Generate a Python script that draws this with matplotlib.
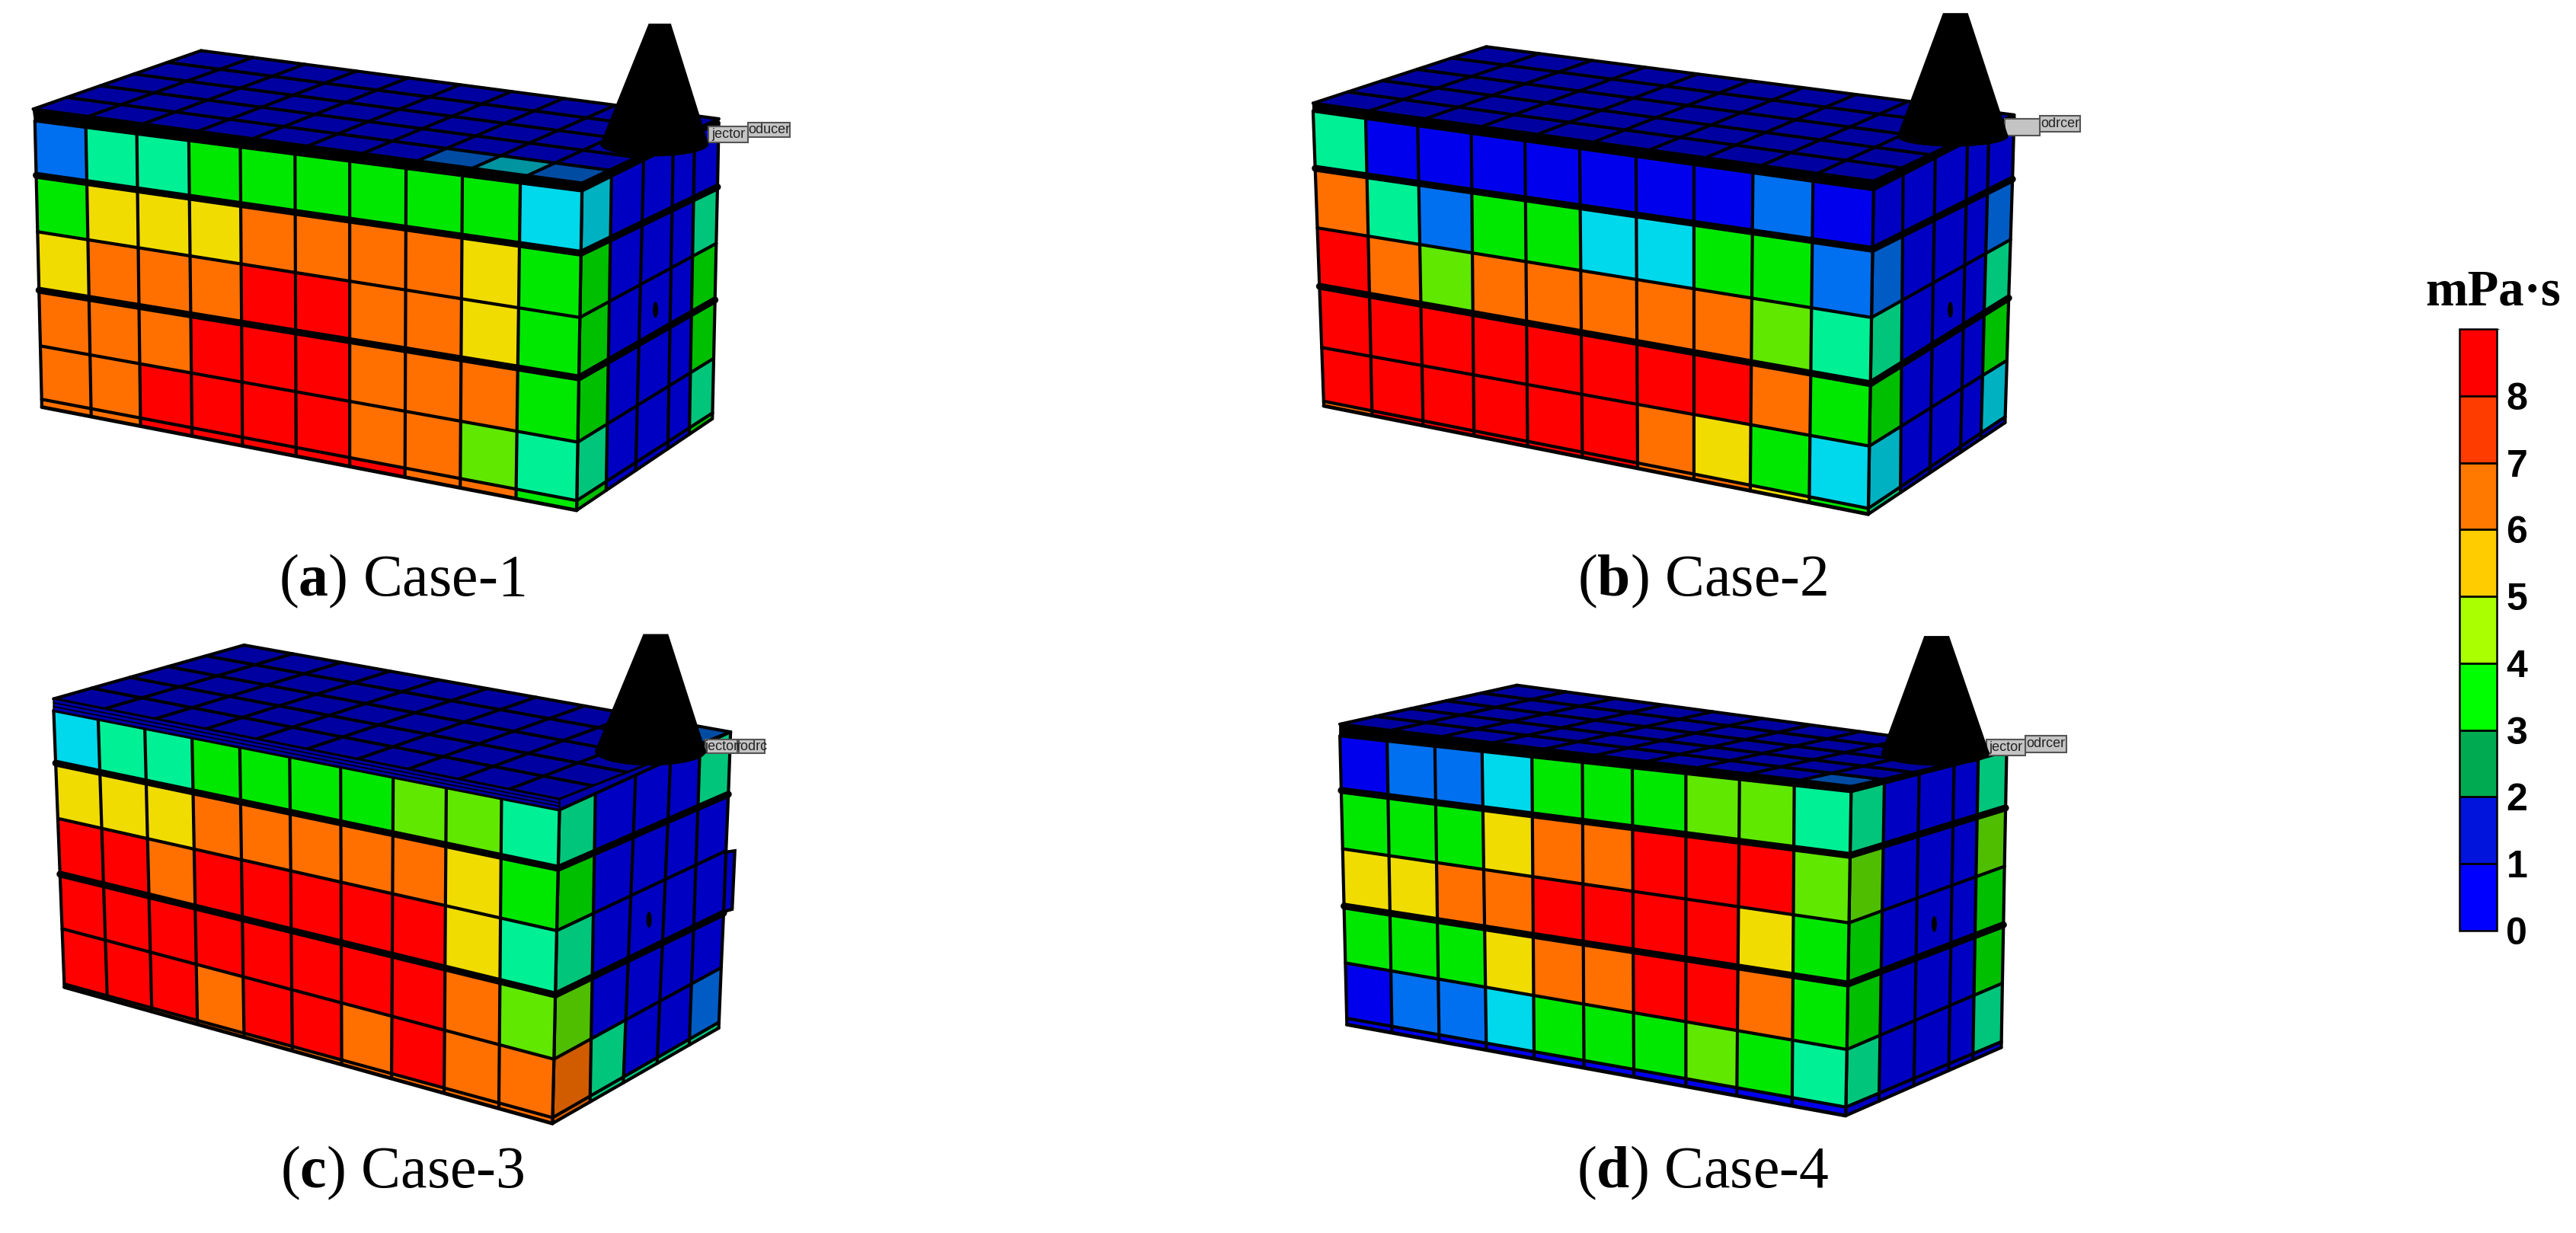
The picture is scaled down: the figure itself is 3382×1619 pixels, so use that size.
import numpy as np
import matplotlib
matplotlib.use("Agg")
import matplotlib.pyplot as plt
from matplotlib.collections import PolyCollection, LineCollection
from matplotlib.colors import ListedColormap, BoundaryNorm, to_rgb
from matplotlib.colorbar import ColorbarBase
from matplotlib.patches import Polygon, Ellipse, Rectangle

plt.rcParams['font.family'] = ['Liberation Serif', 'DejaVu Serif']
plt.rcParams['mathtext.fontset'] = 'custom'
plt.rcParams['mathtext.rm'] = 'Liberation Serif'
plt.rcParams['mathtext.bf'] = 'Liberation Serif:bold'

# ---- cell viscosity estimates (mPa.s), one symbol per colour band seen in the picture
B, M, C, T, G, L, Y, O, R = 0.5, 1.2, 2.0, 2.6, 3.5, 4.4, 5.4, 6.5, 8.3

CASE1_FRONT = [[M,T,T,G,G,G,G,G,G,C],[G,Y,Y,Y,O,O,O,O,Y,G],[Y,O,O,O,R,R,O,O,Y,G],
               [O,O,O,R,R,R,O,O,O,G],[O,O,R,R,R,R,O,O,L,T],[O,O,R,R,R,R,R,O,O,G]]
CASE2_FRONT = [[T,B,B,B,B,B,B,B,M,B],[O,T,M,G,G,C,C,G,G,M],[R,O,L,O,O,O,O,O,L,T],
               [R,R,R,R,R,R,R,R,O,G],[R,R,R,R,R,R,O,Y,G,C],[O,R,R,R,R,R,O,O,Y,G]]
CASE3_FRONT = [[C,T,T,G,G,G,G,L,L,T],[Y,Y,Y,O,O,O,O,O,Y,G],[R,R,O,R,R,R,R,R,Y,T],
               [R,R,R,R,R,R,R,R,O,L],[R,R,R,O,R,R,O,R,O,O],[O,O,O,O,O,O,O,O,O,O]]
CASE4_FRONT = [[B,M,M,C,G,G,G,L,L,T],[G,G,G,Y,O,O,R,R,R,L],[Y,Y,O,O,R,R,R,R,Y,G],
               [G,G,G,Y,O,O,R,R,O,G],[B,M,M,C,G,G,G,L,G,T],[B,B,B,B,B,B,B,B,B,B]]

CASE1_SIDE = [[C,B,B,B,B],[G,B,B,B,T],[G,B,B,B,G],[G,B,B,B,G],[T,B,B,B,T],[G,B,B,B,G]]
CASE2_SIDE = [[B,B,B,B,B],[M,B,B,B,M],[T,B,B,B,T],[G,B,B,B,G],[C,B,B,B,C],[T,B,B,B,B]]
CASE3_SIDE = [[T,B,B,B,T],[G,B,B,B,B],[T,B,B,B,B],[L,B,B,B,B],[O,T,B,B,M],[O,T,T,T,T]]
CASE4_SIDE = [[T,B,B,B,T],[L,B,B,B,L],[G,B,B,B,G],[G,B,B,B,G],[T,B,B,B,T],[B,B,B,B,B]]

# top faces: first row is the row next to the front face
CASE1_TOP = [[B]*7+[M,C,M]] + [[B]*10]*4
CASE2_TOP = [[B]*10]*5
CASE3_TOP = [[B]*10]*4 + [[B]*9+[M]]
CASE4_TOP = [[B]*9+[M]] + [[B]*10]*4

CAPTION_LETTERS = ['a', 'b', 'c', 'd']
CAPTION_NAMES = ['Case-1', 'Case-2', 'Case-3', 'Case-4']
LEGEND_TICKS = [0, 1, 2, 3, 4, 5, 6, 7, 8]
LEGEND_TITLE = 'mPa·s'
LEGEND_BOUNDS = [0, 1, 2, 3, 4, 5, 6, 7, 8, 9]
LEGEND_COLORS = ['#0000ff', '#0014dc', '#00aa50', '#00ff00', '#aaff00',
                 '#ffcc00', '#ff7800', '#ff3c00', '#ff0000']

# ---- colour scales
CELL_BOUNDS = [0, 1, 1.6, 2.3, 3, 4, 5, 6, 7, 9]
CELL_COLORS = ['#0000ec', '#0070f0', '#00d8ec', '#00f096', '#00e800',
               '#60e800', '#f0dc00', '#ff7000', '#ff0000']
cell_norm = BoundaryNorm(CELL_BOUNDS, len(CELL_COLORS))
def shaded(f):
    return ListedColormap([tuple(f * c for c in to_rgb(h)) for h in CELL_COLORS])
cmap_front, cmap_side, cmap_top = shaded(1.0), shaded(0.82), shaded(0.68)

# ---- layout of the four perspective views, px in a 1.42 x 1.955 stretched frame
SX, SY = 1.42, 1.955
VIEWS = [
 dict(off=(0, 0), front=CASE1_FRONT, side=CASE1_SIDE, top=CASE1_TOP,
      f_top=[65,160,255,352,448,550,652,757,862,970,1085], f_bot=[78,170,262,358,452,552,652,755,858,962,1075],
      f_l=[310,450,595,745,888,1025,1045], f_r=[490,650,815,970,1135,1285,1310],
      s_top=[1085,1140,1200,1255,1295,1340], s_bot=[1075,1130,1185,1245,1285,1328],
      s_r=[315,480,625,770,920,1060,1075],
      t=[(62,280),(375,130),(1340,305),(1085,470)], band='k',
      cone=(1210,1250,62,1120,1320,370,400), dot=(1222,795),
      inj=('jector',1320,1395,325,365), pro=('oducer',1395,1472,315,352), cap=(750,1530)),
 dict(off=(1650, 0), front=CASE2_FRONT, side=CASE2_SIDE, top=CASE2_TOP,
      f_top=[105,203,300,400,500,602,707,815,925,1037,1150], f_bot=[125,215,310,405,505,607,710,815,920,1030,1140],
      f_l=[285,432,585,735,892,1030,1042], f_r=[487,640,815,985,1145,1305,1320],
      s_top=[1150,1205,1265,1325,1365,1412], s_bot=[1140,1200,1255,1312,1350,1395],
      s_r=[300,460,615,765,925,1070,1085],
      t=[(105,265),(428,120),(1412,295),(1150,465)], band='k',
      cone=(1280,1325,35,1195,1400,350,375), dot=(1293,795),
      inj=('',1395,1460,305,348), pro=('odrcer',1460,1535,297,338), cap=(831,1530)),
 dict(off=(0, 800), front=CASE3_FRONT, side=CASE3_SIDE, top=CASE3_TOP,
      f_top=[100,183,270,358,447,540,635,733,832,935,1043], f_bot=[120,200,283,368,455,545,637,730,828,930,1030],
      f_l=[260,395,537,680,820,962,970], f_r=[515,665,825,990,1155,1305,1320],
      s_top=[1043,1110,1185,1250,1305,1362], s_bot=[1030,1100,1162,1225,1285,1340],
      s_r=[315,475,620,780,920,1060,1075],
      t=[(100,230),(455,92),(1362,315),(1043,488)], band='#0000a8',
      cone=(1200,1245,65,1110,1315,365,400), dot=(1210,797),
      inj=('jector',1315,1375,335,370), pro=('rodrc',1378,1425,335,370), cap=(750,1485)),
 dict(off=(1650, 800), front=CASE4_FRONT, side=CASE4_SIDE, top=CASE4_TOP,
      f_top=[155,243,332,420,513,607,700,800,900,1002,1108], f_bot=[168,252,340,428,517,610,703,800,895,998,1098],
      f_l=[325,465,615,762,908,1050,1066], f_r=[468,632,805,962,1130,1278,1300],
      s_top=[1108,1170,1235,1300,1345,1398], s_bot=[1098,1160,1225,1290,1335,1388],
      s_r=[365,510,660,810,960,1110,1125],
      t=[(155,295),(485,195),(1398,365),(1108,455)], band='k',
      cone=(1245,1290,70,1165,1365,370,400), dot=(1263,808),
      inj=('jector',1360,1433,335,375), pro=('odrcer',1433,1510,325,367), cap=(831,1485)),
]

fig = plt.figure(figsize=(33.82, 16.19), dpi=100)
ax = fig.add_axes([0, 0, 1, 1])
ax.set_xlim(0, 3382); ax.set_ylim(1619, 0); ax.axis('off')

THIN, THICK = 3.0, 6.5

def grid_nodes(x_top, x_bot, y_l, y_r):
    """Nodes of a face: columns from top/bottom x, rows from left/right y, every row straight."""
    x_top, x_bot = np.array(x_top, float), np.array(x_bot, float)
    y_l, y_r = np.array(y_l, float), np.array(y_r, float)
    u_top = (x_top - x_top[0]) / (x_top[-1] - x_top[0])
    u_bot = (x_bot - x_bot[0]) / (x_bot[-1] - x_bot[0])
    v_l = (y_l - y_l[0]) / (y_l[-1] - y_l[0])
    u = u_top[None, :] * (1 - v_l[:, None]) + u_bot[None, :] * v_l[:, None]
    yy = y_l[:, None] * (1 - u) + y_r[:, None] * u
    x_l = x_top[0] * (1 - v_l) + x_bot[0] * v_l
    x_r = x_top[-1] * (1 - v_l) + x_bot[-1] * v_l
    xx = x_l[:, None] * (1 - u) + x_r[:, None] * u
    return xx, yy

def draw_face(xx, yy, values, cmap, off, row_lw, col_lw=THIN, z=2):
    X = off[0] + xx / SX
    Y = off[1] + yy / SY
    vals = np.array(values, float)
    polys, arr = [], []
    for r in range(vals.shape[0]):
        for c in range(vals.shape[1]):
            polys.append([(X[r,c],Y[r,c]),(X[r,c+1],Y[r,c+1]),(X[r+1,c+1],Y[r+1,c+1]),(X[r+1,c],Y[r+1,c])])
            arr.append(vals[r,c])
    pc = PolyCollection(polys, array=np.array(arr), cmap=cmap, norm=cell_norm, edgecolors='face', linewidths=0.5, zorder=z)
    ax.add_collection(pc)
    segs = [np.c_[X[r], Y[r]] for r in range(X.shape[0])]
    lws = list(row_lw)
    segs += [np.c_[X[:, c], Y[:, c]] for c in range(X.shape[1])]
    lws += [col_lw] * X.shape[1]
    ax.add_collection(LineCollection(segs, colors='k', linewidths=lws, zorder=z + 0.5, capstyle='round'))

def draw_top(v):
    fl, bl, br, fr = [np.array(p, float) for p in v['t']]
    vals = np.array(v['top'], float)
    nr, nc = vals.shape
    u = np.linspace(0, 1, nc + 1); w = np.linspace(0, 1, nr + 1)
    front = fl[None, :] * (1 - u[:, None]) + fr[None, :] * u[:, None]
    back = bl[None, :] * (1 - u[:, None]) + br[None, :] * u[:, None]
    xx = np.outer(1 - w, front[:, 0]) + np.outer(w, back[:, 0])
    yy = np.outer(1 - w, front[:, 1]) + np.outer(w, back[:, 1])
    draw_face(xx, yy, vals, cmap_top, v['off'], [THIN] * (nr + 1), z=1)

def px(v, x, y):
    return v['off'][0] + x / SX, v['off'][1] + y / SY

for i, v in enumerate(VIEWS):
    draw_top(v)
    # wedge closing the gap between the top and side faces
    ax.add_patch(Polygon([px(v, *v['t'][3]), px(v, *v['t'][2]), px(v, v['s_top'][-1], v['s_r'][0]),
                          px(v, v['s_top'][0], v['f_r'][0])], closed=True, fc=v['band'], ec='k', lw=1.5, zorder=1.8))
    # side face
    xx, yy = grid_nodes(v['s_top'], v['s_bot'], v['f_r'], v['s_r'])
    draw_face(xx, yy, v['side'], cmap_side, v['off'], [THIN, THICK, THIN, THICK, THIN, THIN, THIN], z=2)
    # front face
    xx, yy = grid_nodes(v['f_top'], v['f_bot'], v['f_l'], v['f_r'])
    draw_face(xx, yy, v['front'], cmap_front, v['off'], [THIN, THICK, THIN, THICK, THIN, THIN, 3.5], z=3)
    # band between top and front faces
    fl, fr = v['t'][0], v['t'][3]
    a0, b0 = px(v, *fl), px(v, *fr)
    a1, b1 = px(v, v['f_top'][0], v['f_l'][0]), px(v, v['f_top'][-1], v['f_r'][0])
    ax.add_patch(Polygon([a0, b0, b1, a1], closed=True, fc=v['band'], ec='k', lw=1.5, zorder=4))
    if v['band'] != 'k':
        for w in (0.33, 0.66):
            ax.plot([a0[0] + w * (a1[0] - a0[0]), b0[0] + w * (b1[0] - b0[0])],
                    [a0[1] + w * (a1[1] - a0[1]), b0[1] + w * (b1[1] - b0[1])], color='k', lw=1.2, zorder=4.1)
    # well labels
    for key in ('pro', 'inj'):
        txt, x0, x1, y0, y1 = v[key]
        (a, b), (c, d) = px(v, x0, y0), px(v, x1, y1)
        ax.add_patch(Rectangle((a, b), c - a, d - b, fc='#c4c4c4', ec='#555555', lw=1.5, zorder=5))
        if txt:
            ax.text((a + c) / 2, (b + d) / 2, txt, family='Liberation Sans', fontsize=13,
                    ha='center', va='center', color='#222222', zorder=5.1, clip_on=True)
    # injector cone and marker
    x1, x2, ya, xl, xr, yb, ybb = v['cone']
    ax.add_patch(Polygon([px(v, x1, ya), px(v, x2, ya), px(v, xr, yb), px(v, xl, yb)], closed=True, fc='k', ec='k', zorder=6))
    cx, cy = px(v, (xl + xr) / 2, yb)
    ax.add_patch(Ellipse((cx, cy), (xr - xl) / SX, 2 * (ybb - yb) / SY, fc='k', ec='k', zorder=6))
    dx, dy = px(v, *v['dot'])
    ax.add_patch(Ellipse((dx, dy), 7, 21, fc='k', ec='none', zorder=6))
    # caption
    tx, ty = px(v, *v['cap'])
    ax.text(tx, ty, r'($\mathbf{%s}$) %s' % (CAPTION_LETTERS[i], CAPTION_NAMES[i]),
            fontsize=56, ha='center', va='baseline', color='k', zorder=7)

# Case-3 bulge on the right side
bx = VIEWS[2]
ax.add_patch(Polygon([px(bx,1345,625), px(bx,1370,620), px(bx,1365,770), px(bx,1340,780)], closed=True,
                     fc='#0000c2', ec='k', lw=3, zorder=1.9))

# ---- legend
cax = fig.add_axes([3229 / 3382, 1 - 1222 / 1619, 49 / 3382, 790 / 1619])
cb = ColorbarBase(cax, cmap=ListedColormap(LEGEND_COLORS), norm=BoundaryNorm(LEGEND_BOUNDS, 9),
                  ticks=LEGEND_TICKS, spacing='uniform', drawedges=True)
cb.dividers.set_color('k'); cb.dividers.set_linewidth(2)
cb.outline.set_edgecolor('k'); cb.outline.set_linewidth(1.8)
cax.tick_params(length=0, pad=9)
for t in cax.get_yticklabels():
    t.set_family('Liberation Sans'); t.set_fontweight('bold'); t.set_fontsize(36)
fig.text(3273 / 3382, 1 - 400 / 1619, LEGEND_TITLE, family='Liberation Serif', fontweight='bold',
         fontsize=48, ha='center', va='baseline')

fig.savefig('out.png', dpi=100)
